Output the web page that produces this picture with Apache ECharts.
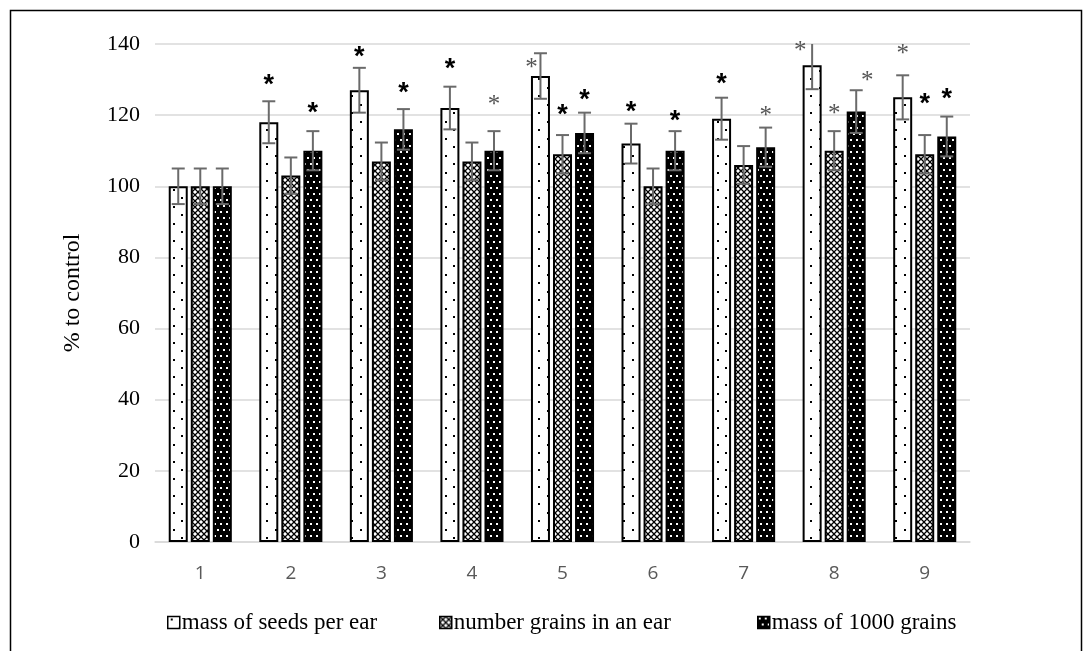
<!DOCTYPE html>
<html>
<head>
<meta charset="utf-8" />
<title>% to control</title>
<style>
  html, body { margin: 0; padding: 0; background: #fff; }
  #chartBox { width: 1087px; height: 651px; }
</style>
</head>
<body>
<div id="chartBox"></div>
<script src="https://cdn.jsdelivr.net/npm/echarts@6/dist/echarts.min.js"></script>
<script>
var categories = ['1', '2', '3', '4', '5', '6', '7', '8', '9'];
var seriesNames = ['mass of seeds per ear', 'number grains in an ear', 'mass of 1000 grains'];

var seedsMass = [100, 118, 127, 122, 131, 112, 119, 134, 125];
var grainsNumber = [100, 103, 107, 107, 109, 100, 106, 110, 109];
var grainMass1000 = [100, 110, 116, 110, 115, 110, 111, 121, 114];

var seedsMassErr = [5, 5.9, 6.3, 6, 6.4, 5.6, 5.9, 6.7, 6.2];
var grainsNumberErr = [5, 5.1, 5.3, 5.3, 5.4, 5, 5.3, 5.5, 5.4];
var grainMass1000Err = [5, 5.5, 5.7, 5.5, 5.7, 5.5, 5.5, 6, 5.6];

// asterisk heights (axis units) and kind: b = bold black, l = light grey
var seedsStarY = [null, 130.1, 137.8, 134.5, 134.5, 122.3, 130.4, 139.4, 138.5];
var seedsStarKind = ['', 'b', 'b', 'b', 'l', 'b', 'b', 'l', 'l'];
var grainsStarY = [null, null, null, null, 121.7, null, null, 121.7, 124.7];
var grainsStarKind = ['', '', '', '', 'b', '', '', 'l', 'b'];
var thousandStarY = [null, 122, 127.7, 124, 125.9, 119.8, 121, 130.8, 126.2];
var thousandStarKind = ['', 'b', 'b', 'l', 'b', 'b', 'l', 'l', 'b'];

var yTicks = { min: 0, max: 140, interval: 20 };

var _barW = 19;
var _gap = 0.16;
var _serif = '"Liberation Serif", "Times New Roman", serif';

// pattern tiles
function tile(w, h, draw) {
  var c = document.createElement('canvas');
  c.width = w; c.height = h;
  draw(c.getContext('2d'));
  return c;
}
var patSeeds = tile(17, 17, function (g) {
  g.fillStyle = '#fff'; g.fillRect(0, 0, 17, 17);
  g.fillStyle = '#000';
  g.fillRect(3, 2, 2, 2);
  g.fillRect(11, 10, 2, 2);
});
var patGrains = tile(6, 6, function (g) {
  g.fillStyle = '#fff'; g.fillRect(0, 0, 6, 6);
  g.strokeStyle = '#000'; g.lineWidth = 1.3;
  g.beginPath();
  g.moveTo(-1, -1); g.lineTo(7, 7);
  g.moveTo(7, -1); g.lineTo(-1, 7);
  g.stroke();
});
var patThousand = tile(12, 12, function (g) {
  g.fillStyle = '#000'; g.fillRect(0, 0, 12, 12);
  g.fillStyle = '#fff';
  g.fillRect(1, 1, 2, 2); g.fillRect(7, 1, 2, 2);
  g.fillRect(4, 7, 2, 2); g.fillRect(10, 7, 2, 2);
});
var patterns = [patSeeds, patGrains, patThousand];

function barSeries(idx, data) {
  return {
    name: seriesNames[idx],
    type: 'bar',
    barWidth: _barW,
    barGap: (_gap * 100) + '%',
    itemStyle: {
      color: { image: patterns[idx], repeat: 'repeat' },
      borderColor: '#000',
      borderWidth: 2
    },
    data: data
  };
}

function errSeries(idx, vals, errs) {
  var data = vals.map(function (v, i) { return [i, v, errs[i]]; });
  return {
    type: 'custom',
    z: 5,
    clip: true,
    silent: true,
    renderItem: function (params, api) {
      var off = (idx - 1) * _barW * (1 + _gap);
      var top = api.coord([api.value(0), api.value(1) + api.value(2)]);
      var bot = api.coord([api.value(0), api.value(1) - api.value(2)]);
      var x = top[0] + off;
      var cap = 6.5;
      var st = { stroke: '#6a6a6a', lineWidth: 2 };
      return {
        type: 'group',
        children: [
          { type: 'line', shape: { x1: x, y1: top[1], x2: x, y2: bot[1] }, style: st },
          { type: 'line', shape: { x1: x - cap, y1: top[1], x2: x + cap, y2: top[1] }, style: st },
          { type: 'line', shape: { x1: x - cap, y1: bot[1], x2: x + cap, y2: bot[1] }, style: st }
        ]
      };
    },
    data: data
  };
}

// a few asterisks sit off-centre in the original
var starShift = { '4-0': -9, '7-0': -12, '7-2': 11 };

function starSeries() {
  var sets = [[seedsStarY, seedsStarKind], [grainsStarY, grainsStarKind], [thousandStarY, thousandStarKind]];
  var data = [];
  sets.forEach(function (s, si) {
    s[0].forEach(function (y, i) {
      if (y == null) return;
      data.push([i, y, si, s[1][i] === 'b' ? 1 : 2]);
    });
  });
  return {
    type: 'custom',
    z: 6,
    clip: false,
    silent: true,
    renderItem: function (params, api) {
      var i = api.value(0), si = api.value(2), bold = api.value(3) === 1;
      var p = api.coord([i, api.value(1)]);
      var x = p[0] + (si - 1) * _barW * (1 + _gap) + (starShift[i + '-' + si] || 0);
      return {
        type: 'text',
        x: x,
        y: p[1] + (bold ? 6 : 5),
        style: {
          text: '*',
          align: 'center', verticalAlign: 'middle',
          textAlign: 'center', textVerticalAlign: 'middle',
          font: bold ? 'bold 27px "Liberation Sans", Arial, sans-serif' : '25px ' + _serif,
          fill: bold ? '#000' : '#555'
        }
      };
    },
    data: data
  };
}

function legendItem(idx, left) {
  return {
    data: [seriesNames[idx]],
    left: left,
    top: 606,
    icon: 'rect',
    itemWidth: 12,
    itemHeight: 12,
    itemGap: 0,
    selectedMode: false,
    textStyle: { fontFamily: _serif, fontSize: 23, color: '#000', padding: [0, 0, 0, -3] },
    itemStyle: { borderColor: '#000', borderWidth: 1.5 }
  };
}

var chart = echarts.init(document.getElementById('chartBox'));
chart.setOption({
  animation: false,
  backgroundColor: '#fff',
  graphic: [{
    type: 'rect',
    shape: { x: 10.5, y: 10.5, width: 1071, height: 700 },
    style: { fill: 'none', stroke: '#000', lineWidth: 1.5 },
    silent: true
  }],
  grid: { left: 155, right: 117, top: 44, bottom: 109, containLabel: false },
  legend: [legendItem(0, 162), legendItem(1, 434), legendItem(2, 752)],
  xAxis: {
    type: 'category',
    data: categories,
    axisLine: { lineStyle: { color: '#d9d9d9', width: 1.5 } },
    axisTick: { show: false },
    axisLabel: { margin: 22, color: '#595959', fontSize: 19, fontFamily: '"Open Sans", "Liberation Sans", sans-serif' }
  },
  yAxis: {
    type: 'value',
    min: yTicks.min, max: yTicks.max, interval: yTicks.interval,
    name: '% to control',
    nameLocation: 'middle',
    nameRotate: 90,
    nameGap: 70,
    nameTextStyle: { fontFamily: _serif, fontSize: 24, color: '#000' },
    axisLine: { show: false },
    axisTick: { show: false },
    splitLine: { lineStyle: { color: '#d9d9d9', width: 1.5 } },
    axisLabel: { margin: 15, color: '#000', fontSize: 22, fontFamily: _serif }
  },
  series: [
    barSeries(0, seedsMass),
    barSeries(1, grainsNumber),
    barSeries(2, grainMass1000),
    errSeries(0, seedsMass, seedsMassErr),
    errSeries(1, grainsNumber, grainsNumberErr),
    errSeries(2, grainMass1000, grainMass1000Err),
    starSeries()
  ]
});
</script>
</body>
</html>
